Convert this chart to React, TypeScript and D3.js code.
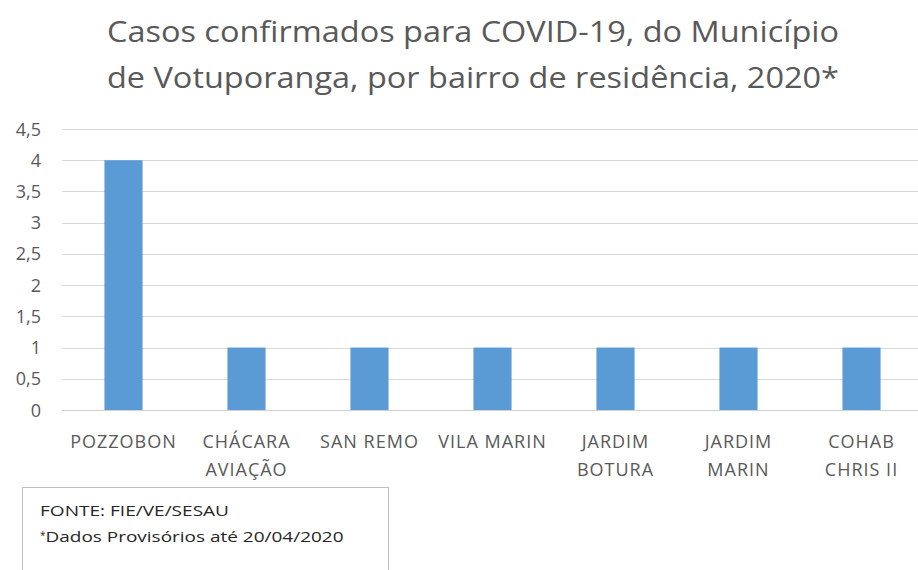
import React, { useRef, useEffect } from "react";
import * as d3 from "d3";

const bairros = [
  ["POZZOBON"],
  ["CHÁCARA", "AVIAÇÃO"],
  ["SAN REMO"],
  ["VILA MARIN"],
  ["JARDIM", "BOTURA"],
  ["JARDIM", "MARIN"],
  ["COHAB", "CHRIS II"],
];
const casos = [4, 1, 1, 1, 1, 1, 1];
const yTicks = [0, 0.5, 1, 1.5, 2, 2.5, 3, 3.5, 4, 4.5];
const titleLines = [
  "Casos confirmados para COVID-19, do Município",
  "de Votuporanga, por bairro de residência, 2020*",
];
const notes = ["FONTE: FIE/VE/SESAU", "Dados Provisórios até 20/04/2020"];

const FONT = "'Open Sans', 'Noto Sans', sans-serif";
const TEXT = "#595959";

const App = () => {
  const ref = useRef<SVGSVGElement>(null);

  useEffect(() => {
    if (!ref.current) return;
    const svg = d3.select(ref.current);
    svg.selectAll("*").remove();

    const left = 62;
    const right = 923;
    const top = 129;
    const bottom = 410;

    const keys = bairros.map((b) => b.join(" "));
    const x = d3.scaleBand().domain(keys).range([left, right]).paddingInner(0.69).paddingOuter(0.345);
    const y = d3.scaleLinear().domain([0, 4.5]).range([bottom, top]);

    svg.append("rect").attr("width", 918).attr("height", 570).attr("fill", "#fff");

    // title
    svg
      .selectAll(".title")
      .data(titleLines)
      .enter()
      .append("text")
      .attr("x", 473)
      .attr("y", (d, i) => 42 + i * 46)
      .attr("text-anchor", "middle")
      .attr("font-family", FONT)
      .attr("font-size", 29)
      .attr("fill", TEXT)
      .attr("textLength", 732)
      .attr("lengthAdjust", "spacingAndGlyphs")
      .text((d) => d);

    // gridlines
    svg
      .selectAll(".grid")
      .data(yTicks)
      .enter()
      .append("line")
      .attr("x1", left)
      .attr("x2", 918)
      .attr("y1", (d) => Math.round(y(d)) + 0.5)
      .attr("y2", (d) => Math.round(y(d)) + 0.5)
      .attr("stroke", (d) => (d === 0 ? "#d0d0d0" : "#d9d9d9"))
      .attr("stroke-width", 1);

    // y labels
    svg
      .selectAll(".ylab")
      .data(yTicks)
      .enter()
      .append("text")
      .attr("x", 41)
      .attr("y", (d) => y(d) + 6.5)
      .attr("text-anchor", "end")
      .attr("font-family", FONT)
      .attr("font-size", 18)
      .attr("fill", TEXT)
      .text((d) => String(d).replace(".", ","));

    // bars
    svg
      .selectAll(".bar")
      .data(casos)
      .enter()
      .append("rect")
      .attr("x", (d, i) => x(keys[i])!)
      .attr("width", x.bandwidth())
      .attr("y", (d) => y(d))
      .attr("height", (d) => y(0) - y(d))
      .attr("fill", "#5b9bd5");

    // x labels
    const xl = svg
      .selectAll(".xlab")
      .data(bairros)
      .enter()
      .append("text")
      .attr("text-anchor", "middle")
      .attr("font-family", FONT)
      .attr("font-size", 18)
      .attr("letter-spacing", 1)
      .attr("fill", TEXT);
    xl.each(function (d, i) {
      const cx = x(keys[i])! + x.bandwidth() / 2;
      d3.select(this)
        .selectAll("tspan")
        .data(d)
        .enter()
        .append("tspan")
        .attr("x", cx)
        .attr("y", (t, j) => 448 + j * 28)
        .text((t) => t);
    });

    // note box
    svg
      .append("rect")
      .attr("x", 22.5)
      .attr("y", 487.5)
      .attr("width", 366)
      .attr("height", 100)
      .attr("fill", "#fff")
      .attr("stroke", "#bfbfbf");
    svg
      .append("text")
      .attr("x", 40)
      .attr("y", 516)
      .attr("font-family", FONT)
      .attr("font-size", 15)
      .attr("fill", "#262626")
      .attr("textLength", 189)
      .attr("lengthAdjust", "spacingAndGlyphs")
      .text(notes[0]);
    const n2 = svg
      .append("text")
      .attr("x", 40)
      .attr("y", 542)
      .attr("font-family", FONT)
      .attr("font-size", 15)
      .attr("fill", "#262626");
    n2.append("tspan").attr("font-size", 10).attr("dy", -3).text("*");
    n2
      .append("tspan")
      .attr("dy", 3)
      .attr("textLength", 298)
      .attr("lengthAdjust", "spacingAndGlyphs")
      .text(notes[1]);
  }, []);

  return <svg ref={ref} width={918} height={570} style={{ position: "absolute", left: 0, top: 0 }} />;
};

export default App;
